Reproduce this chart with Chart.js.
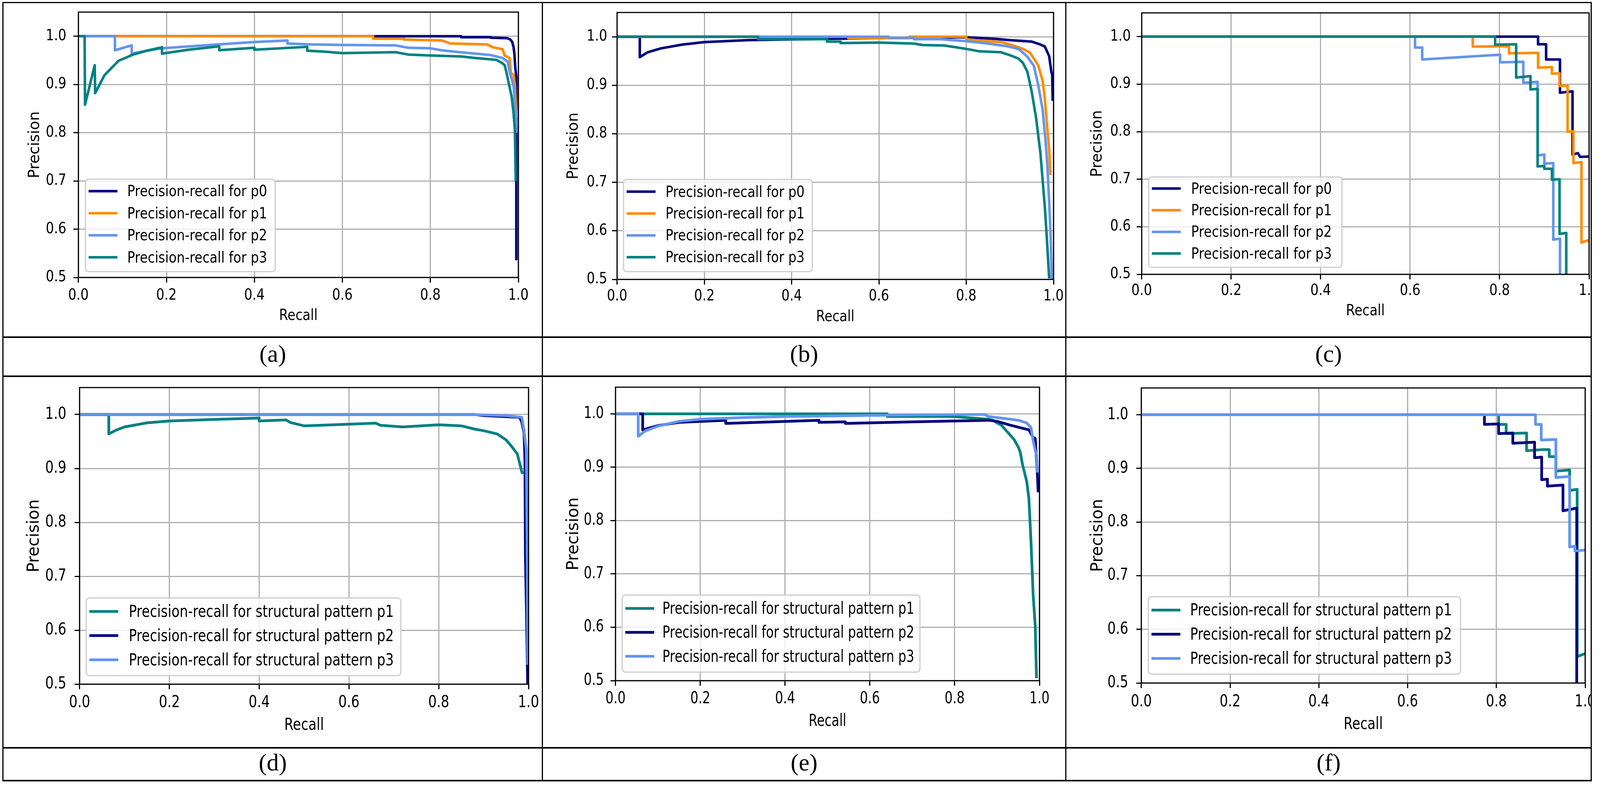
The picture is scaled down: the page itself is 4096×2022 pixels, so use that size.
<!DOCTYPE html>
<html>
<head>
<meta charset="utf-8">
<script src="https://cdn.jsdelivr.net/npm/chart.js@4.4.0/dist/chart.umd.min.js"></script>
<style>
html, body { margin: 0; padding: 0; background: #fff; overflow: hidden; width: 4096px; height: 2022px; }
#page { position: relative; width: 4096px; height: 2022px; overflow: hidden; background: #fff; }
.rule { position: absolute; background: #000; }
.cap { position: absolute; font-family: "Liberation Serif", "Times New Roman", serif; color: #000; text-align: center; white-space: nowrap; }
canvas { position: absolute; }
</style>
</head>
<body>
<div id="page"></div>
<script>
// everything is laid out in reference pixels and scaled by S
var S = 0.999;

var NAVY = '#000080', ORANGE = '#ff8c00', BLUE = '#6495ed', TEAL = '#008080';

// axis ticks
var xTicks = [0, 0.2, 0.4, 0.6, 0.8, 1.0];
var yTicks = [0.5, 0.6, 0.7, 0.8, 0.9, 1.0];

var labelsTop = ['Precision-recall for p0', 'Precision-recall for p1', 'Precision-recall for p2', 'Precision-recall for p3'];
var labelsBottom = ['Precision-recall for structural pattern p1', 'Precision-recall for structural pattern p2', 'Precision-recall for structural pattern p3'];
var captions = ['(a)', '(b)', '(c)', '(d)', '(e)', '(f)'];

// (a) [recall, precision]
var aP0 = [[0,1],[0.87,1],[0.87,0.998],[0.937,0.998],[0.937,0.997],[0.975,0.996],[0.982,0.993],[0.986,0.988],[0.989,0.978],[0.991,0.963],[0.993,0.935],[0.9953,0.916],[0.9953,0.538]];
var aP1 = [[0,1],[0.67,1],[0.67,0.995],[0.74,0.995],[0.74,0.993],[0.827,0.991],[0.845,0.985],[0.929,0.983],[0.942,0.977],[0.964,0.973],[0.969,0.96],[0.98,0.955],[0.983,0.924],[0.989,0.92],[0.992,0.9],[0.995,0.845],[0.996,0.83]];
var aP2 = [[0,1],[0.083,1],[0.083,0.971],[0.121,0.981],[0.121,0.964],[0.15,0.969],[0.19,0.975],[0.3,0.982],[0.4,0.988],[0.475,0.991],[0.475,0.985],[0.53,0.983],[0.6,0.982],[0.72,0.981],[0.75,0.976],[0.8,0.975],[0.824,0.971],[0.866,0.967],[0.937,0.961],[0.964,0.955],[0.976,0.947],[0.98,0.926],[0.989,0.898],[0.994,0.841],[0.997,0.8]];
var aP3 = [[0,1],[0.014,1],[0.015,0.858],[0.037,0.94],[0.038,0.882],[0.059,0.919],[0.091,0.949],[0.123,0.9615],[0.155,0.97],[0.19,0.977],[0.19,0.964],[0.25,0.972],[0.32,0.979],[0.32,0.971],[0.4,0.976],[0.4,0.972],[0.52,0.978],[0.52,0.97],[0.56,0.968],[0.6,0.965],[0.72,0.967],[0.75,0.962],[0.8,0.96],[0.87,0.958],[0.9,0.955],[0.95,0.951],[0.962,0.945],[0.969,0.94],[0.976,0.912],[0.985,0.873],[0.989,0.841],[0.992,0.806],[0.994,0.7]];

// (b)
var bP0 = [[0,1],[0.052,1],[0.052,0.958],[0.07,0.968],[0.1,0.976],[0.15,0.984],[0.2,0.989],[0.3,0.993],[0.4,0.9946],[0.5,0.996],[0.7,0.998],[0.8,0.999],[0.87,0.9955],[0.9,0.993],[0.95,0.99],[0.97,0.984],[0.98,0.98],[0.99,0.96],[0.995,0.928],[0.997,0.921],[0.998,0.868]];
var bP1 = [[0,1],[0.53,1],[0.53,0.997],[0.67,0.997],[0.67,1],[0.8,1],[0.8,0.995],[0.83,0.992],[0.88,0.989],[0.9,0.984],[0.93,0.975],[0.945,0.968],[0.955,0.955],[0.965,0.941],[0.975,0.909],[0.98,0.873],[0.985,0.819],[0.99,0.769],[0.993,0.715]];
var bP2 = [[0,1],[0.622,1],[0.622,0.998],[0.68,0.998],[0.68,0.995],[0.74,0.995],[0.8,0.991],[0.85,0.986],[0.89,0.981],[0.92,0.975],[0.94,0.959],[0.955,0.94],[0.965,0.9],[0.975,0.85],[0.982,0.783],[0.986,0.733],[0.99,0.66],[0.993,0.6],[0.996,0.5]];
var bP3 = [[0,1],[0.323,1],[0.323,0.995],[0.481,0.995],[0.481,0.99],[0.512,0.99],[0.512,0.987],[0.6,0.988],[0.68,0.986],[0.7,0.983],[0.75,0.982],[0.8,0.975],[0.83,0.97],[0.88,0.968],[0.9,0.962],[0.92,0.955],[0.93,0.946],[0.94,0.928],[0.95,0.887],[0.96,0.833],[0.97,0.76],[0.98,0.65],[0.985,0.58],[0.99,0.502]];

// (c)
var cP0 = [[0,1],[0.886,1],[0.886,0.984],[0.904,0.984],[0.904,0.952],[0.935,0.952],[0.935,0.882],[0.963,0.885],[0.963,0.752],[0.975,0.755],[0.98,0.747],[1,0.748]];
var cP1 = [[0,1],[0.74,1],[0.74,0.979],[0.821,0.98],[0.821,0.965],[0.886,0.966],[0.886,0.935],[0.917,0.936],[0.917,0.922],[0.934,0.923],[0.934,0.896],[0.952,0.897],[0.952,0.8],[0.965,0.801],[0.965,0.734],[0.983,0.736],[0.983,0.567],[1,0.572]];
var cP2 = [[0,1],[0.611,1],[0.611,0.977],[0.627,0.977],[0.627,0.952],[0.801,0.962],[0.801,0.946],[0.853,0.947],[0.853,0.903],[0.885,0.905],[0.885,0.75],[0.9,0.752],[0.9,0.733],[0.92,0.734],[0.92,0.573],[0.935,0.575],[0.935,0.5]];
var cP3 = [[0,1],[0.79,1],[0.79,0.983],[0.837,0.984],[0.837,0.914],[0.869,0.917],[0.869,0.889],[0.885,0.89],[0.885,0.727],[0.9,0.728],[0.9,0.722],[0.917,0.722],[0.917,0.699],[0.934,0.7],[0.934,0.585],[0.949,0.587],[0.949,0.5]];

// (d)
var dP1 = [[0,1],[0.065,1],[0.065,0.964],[0.08,0.9706],[0.1,0.977],[0.15,0.9846],[0.2,0.988],[0.3,0.991],[0.4,0.9934],[0.4,0.988],[0.46,0.99],[0.47,0.985],[0.5,0.979],[0.6,0.982],[0.66,0.984],[0.67,0.98],[0.72,0.977],[0.8,0.981],[0.85,0.979],[0.88,0.973],[0.9,0.97],[0.93,0.964],[0.95,0.953],[0.965,0.938],[0.975,0.927],[0.985,0.894],[0.987,0.89]];
var dP2 = [[0,1],[0.88,1],[0.9,0.998],[0.98,0.995],[0.985,0.986],[0.99,0.966],[0.992,0.914],[0.993,0.742],[0.996,0.606],[0.998,0.5]];
var dP3 = [[0,1],[0.87,1],[0.95,0.998],[0.985,0.995],[0.99,0.97],[0.995,0.935],[0.997,0.738],[0.998,0.536]];

// (e)
var eP1 = [[0,1],[0.641,1],[0.641,0.995],[0.795,0.995],[0.88,0.99],[0.89,0.988],[0.9,0.983],[0.91,0.979],[0.92,0.97],[0.93,0.961],[0.94,0.952],[0.95,0.938],[0.955,0.927],[0.96,0.905],[0.97,0.873],[0.975,0.842],[0.98,0.761],[0.985,0.662],[0.99,0.603],[0.993,0.5045]];
var eP2 = [[0,1],[0.064,1],[0.064,0.97],[0.1,0.978],[0.15,0.984],[0.26,0.988],[0.26,0.982],[0.48,0.988],[0.48,0.984],[0.542,0.985],[0.542,0.982],[0.7,0.985],[0.88,0.988],[0.9,0.986],[0.93,0.979],[0.96,0.973],[0.975,0.97],[0.985,0.956],[0.99,0.954],[0.995,0.887],[0.997,0.853]];
var eP3 = [[0,1],[0.0535,1],[0.0535,0.958],[0.07,0.968],[0.1,0.977],[0.15,0.986],[0.2,0.99],[0.3,0.993],[0.4,0.995],[0.5,0.996],[0.6,0.997],[0.7,0.998],[0.87,0.999],[0.88,0.995],[0.92,0.991],[0.95,0.988],[0.97,0.983],[0.98,0.974],[0.985,0.95],[0.99,0.932],[0.993,0.923],[0.995,0.89]];

// (f)
var fP1 = [[0,1],[0.805,1],[0.805,0.982],[0.822,0.982],[0.822,0.965],[0.868,0.966],[0.868,0.933],[0.902,0.935],[0.919,0.935],[0.919,0.922],[0.934,0.922],[0.934,0.895],[0.965,0.897],[0.965,0.859],[0.982,0.861],[0.982,0.549],[1,0.555]];
var fP2 = [[0,1],[0.773,1],[0.773,0.982],[0.805,0.983],[0.805,0.965],[0.837,0.966],[0.837,0.947],[0.886,0.949],[0.886,0.92],[0.902,0.921],[0.902,0.879],[0.915,0.88],[0.915,0.867],[0.95,0.869],[0.95,0.821],[0.981,0.826],[0.981,0.45]];
var fP3 = [[0,1],[0.888,1],[0.888,0.982],[0.901,0.982],[0.901,0.953],[0.934,0.954],[0.934,0.883],[0.965,0.885],[0.965,0.7536],[0.977,0.755],[0.977,0.746],[1,0.748]];

// table lines (reference px)
var colX = [8, 1390, 2731, 4078];
var rowY = [7, 864, 964, 1916, 2000];

var page = document.getElementById('page');

// matplotlib text in the reference is squeezed sideways; do the same per canvas
var origFillText = CanvasRenderingContext2D.prototype.fillText;
CanvasRenderingContext2D.prototype.fillText = function (text, x, y, maxWidth) {
    var sx = this.canvas.squeeze || 1;
    var m = this.getTransform();
    if (sx === 1 || Math.abs(m.b) > 1e-6) {
        return origFillText.call(this, text, x, y, maxWidth);
    }
    this.save();
    this.translate(x, y);
    this.scale(sx, 1);
    origFillText.call(this, text, 0, 0, maxWidth === undefined ? undefined : maxWidth / sx);
    this.restore();
};

function roundRectPath(ctx, x, y, w, h, r) {
    ctx.beginPath();
    ctx.moveTo(x + r, y);
    ctx.lineTo(x + w - r, y);
    ctx.arcTo(x + w, y, x + w, y + r, r);
    ctx.lineTo(x + w, y + h - r);
    ctx.arcTo(x + w, y + h, x + w - r, y + h, r);
    ctx.lineTo(x + r, y + h);
    ctx.arcTo(x, y + h, x, y + h - r, r);
    ctx.lineTo(x, y + r);
    ctx.arcTo(x, y, x + r, y, r);
    ctx.closePath();
}

// frame on all four sides + matplotlib style legend box
var frameLegend = {
    id: 'frameLegend',
    afterDatasetsDraw: function (chart, args, o) {
        var ctx = chart.ctx, a = chart.chartArea;
        ctx.save();
        ctx.strokeStyle = '#000';
        ctx.lineWidth = 3 * S;
        ctx.strokeRect(a.left, a.top, a.right - a.left, a.bottom - a.top);

        roundRectPath(ctx, o.x, o.y, o.w, o.h, 8 * S);
        ctx.fillStyle = 'rgba(255,255,255,0.8)';
        ctx.fill();
        ctx.strokeStyle = '#cccccc';
        ctx.lineWidth = 3 * S;
        ctx.stroke();

        var n = chart.data.datasets.length;
        chart.data.datasets.forEach(function (ds, i) {
            var cy = o.y + o.h / 2 + (i - (n - 1) / 2) * o.step;
            ctx.strokeStyle = ds.borderColor;
            ctx.lineWidth = ds.borderWidth;
            ctx.lineCap = 'butt';
            ctx.beginPath();
            ctx.moveTo(o.x + 8 * S, cy - 3 * S);
            ctx.lineTo(o.x + 82 * S, cy - 3 * S);
            ctx.stroke();
            ctx.fillStyle = '#000';
            ctx.font = o.fs + 'px "DejaVu Sans", sans-serif';
            ctx.textAlign = 'left';
            ctx.textBaseline = 'middle';
            ctx.fillText(ds.label, o.x + o.tx, cy);
        });
        ctx.restore();
    }
};

var panels = [
    {axes: [201, 31, 1328, 711], legend: [219, 459, 705, 696], series: [aP0, aP1, aP2, aP3], labels: labelsTop, colors: [NAVY, ORANGE, BLUE, TEAL], col: 0, fs: 38.5, sx: 0.86, xt: 47, xl: 99, yt: 31, yl: 111, step: 56.5, tx: 107, lw: 6.5},
    {axes: [1581.5, 32, 2700, 715.5], legend: [1598, 460, 2081.5, 696], series: [bP0, bP1, bP2, bP3], labels: labelsTop, colors: [NAVY, ORANGE, BLUE, TEAL], col: 1, fs: 38.5, sx: 0.855, xt: 43.5, xl: 97, yt: 25.5, yl: 111, step: 56, tx: 107.6, lw: 6.5},
    {axes: [2926, 33, 4072, 703], legend: [2944, 453.5, 3439, 685], series: [cP0, cP1, cP2, cP3], labels: labelsTop, colors: [NAVY, ORANGE, BLUE, TEAL], col: 2, fs: 38.5, sx: 0.865, xt: 43, xl: 95, yt: 28, yl: 113, step: 55.5, tx: 108.7, lw: 6.5},
    {axes: [204, 993, 1354, 1753], legend: [221, 1532, 1027, 1731], series: [dP1, dP2, dP3], labels: labelsBottom, colors: [TEAL, NAVY, BLUE], col: 0, fs: 42, sx: 0.81, xt: 48.5, xl: 106, yt: 34, yl: 116, step: 62, tx: 109, lw: 7},
    {axes: [1577, 992, 2663, 1744], legend: [1594, 1524.5, 2357, 1722], series: [eP1, eP2, eP3], labels: labelsBottom, colors: [TEAL, NAVY, BLUE], col: 1, fs: 42, sx: 0.77, xt: 47, xl: 105.5, yt: 30, yl: 107, step: 61.3, tx: 103, lw: 7},
    {axes: [2925, 994, 4062, 1750], legend: [2943, 1529, 3743, 1727], series: [fP1, fP2, fP3], labels: labelsBottom, colors: [TEAL, NAVY, BLUE], col: 2, fs: 42, sx: 0.8, xt: 49, xl: 107, yt: 33.4, yl: 111, step: 62, tx: 107, lw: 7}
];

function makePanel(p) {
    var L = p.axes[0], T = p.axes[1], R = p.axes[2], B = p.axes[3];
    var yW = 170, xH = 135;
    var cl = L - 200, ct = T - 30;
    var cr = Math.min(R + 40, colX[p.col + 1] - 2);
    var cb = B + 145;

    var canvas = document.createElement('canvas');
    var w = Math.round((cr - cl) * S), h = Math.round((cb - ct) * S);
    canvas.width = w;
    canvas.height = h;
    canvas.style.left = (cl * S) + 'px';
    canvas.style.top = (ct * S) + 'px';
    canvas.style.width = w + 'px';
    canvas.style.height = h + 'px';
    canvas.squeeze = p.sx;
    page.appendChild(canvas);

    var font = {family: '"DejaVu Sans", sans-serif', size: p.fs * S, lineHeight: 1};
    var n = p.series.length;

    function noPad(s) {
        s.paddingLeft = 0; s.paddingRight = 0; s.paddingTop = 0; s.paddingBottom = 0;
    }

    new Chart(canvas, {
        type: 'line',
        data: {
            datasets: p.series.map(function (s, i) {
                return {
                    label: p.labels[i],
                    data: s.map(function (pt) { return {x: pt[0], y: pt[1]}; }),
                    borderColor: p.colors[i],
                    borderWidth: p.lw * S,
                    borderJoinStyle: 'round',
                    pointRadius: 0,
                    tension: 0,
                    fill: false,
                    clip: 0,
                    order: n - i
                };
            })
        },
        options: {
            responsive: false,
            animation: false,
            devicePixelRatio: 1,
            events: [],
            layout: {padding: {left: (L - cl - yW) * S, top: (T - ct) * S, right: (cr - R) * S, bottom: (cb - B - xH) * S}},
            plugins: {
                legend: {display: false},
                tooltip: {enabled: false},
                frameLegend: {
                    x: (p.legend[0] - cl) * S, y: (p.legend[1] - ct) * S,
                    w: (p.legend[2] - p.legend[0]) * S, h: (p.legend[3] - p.legend[1]) * S,
                    step: p.step * S, fs: p.fs * S, tx: p.tx * S
                }
            },
            scales: {
                x: {
                    type: 'linear', min: 0, max: 1,
                    afterBuildTicks: function (s) { s.ticks = xTicks.map(function (v) { return {value: v}; }); },
                    afterFit: function (s) { s.height = xH * S; noPad(s); },
                    ticks: {font: font, color: '#000', padding: (p.xt - 13 - p.fs / 2) * S, maxRotation: 0, autoSkip: false,
                        callback: function (v) { return v.toFixed(1); }},
                    grid: {color: '#b0b0b0', lineWidth: 3 * S, tickLength: 13 * S, tickWidth: 3 * S, tickColor: '#000'},
                    border: {display: false},
                    title: {display: true, text: 'Recall', color: '#000', font: font,
                        padding: {top: 0, bottom: (xH - p.fs / 2 - p.xl) * S}}
                },
                y: {
                    type: 'linear', min: 0.5, max: 1.05,
                    afterBuildTicks: function (s) { s.ticks = yTicks.map(function (v) { return {value: v}; }); },
                    afterFit: function (s) { s.width = yW * S; noPad(s); },
                    ticks: {font: font, color: '#000', padding: (p.yt - 13) * S, autoSkip: false,
                        callback: function (v) { return v.toFixed(1); }},
                    grid: {color: '#b0b0b0', lineWidth: 3 * S, tickLength: 13 * S, tickWidth: 3 * S, tickColor: '#000'},
                    border: {display: false},
                    title: {display: true, text: 'Precision', color: '#000', font: font,
                        padding: {top: (yW - p.fs / 2 - p.yl) * S, bottom: 0}}
                }
            }
        },
        plugins: [frameLegend]
    });
}

panels.forEach(makePanel);

// table rules
function rule(x, y, w, h) {
    var d = document.createElement('div');
    d.className = 'rule';
    d.style.left = (x * S) + 'px';
    d.style.top = (y * S) + 'px';
    d.style.width = (w * S) + 'px';
    d.style.height = (h * S) + 'px';
    page.appendChild(d);
}
rule(colX[0] - 1.5, rowY[0] - 1.5, colX[3] - colX[0] + 3, 3);
[1, 2, 3, 4].forEach(function (i) { rule(colX[0] - 1.5, rowY[i] - 2, colX[3] - colX[0] + 3, 4); });
colX.forEach(function (x) { rule(x - 1.5, rowY[0] - 1.5, 3, rowY[4] - rowY[0] + 3.5); });

// sub-figure captions
captions.forEach(function (t, i) {
    var c = i % 3, r = Math.floor(i / 3);
    var mid = r === 0 ? 912.5 : 1959;
    var d = document.createElement('div');
    d.className = 'cap';
    d.textContent = t;
    d.style.left = (colX[c] * S) + 'px';
    d.style.width = ((colX[c + 1] - colX[c]) * S) + 'px';
    d.style.top = ((mid - 5.4 - 31) * S) + 'px';
    d.style.height = (62 * S) + 'px';
    d.style.lineHeight = (62 * S) + 'px';
    d.style.fontSize = (62 * S) + 'px';
    page.appendChild(d);
});
</script>
</body>
</html>
